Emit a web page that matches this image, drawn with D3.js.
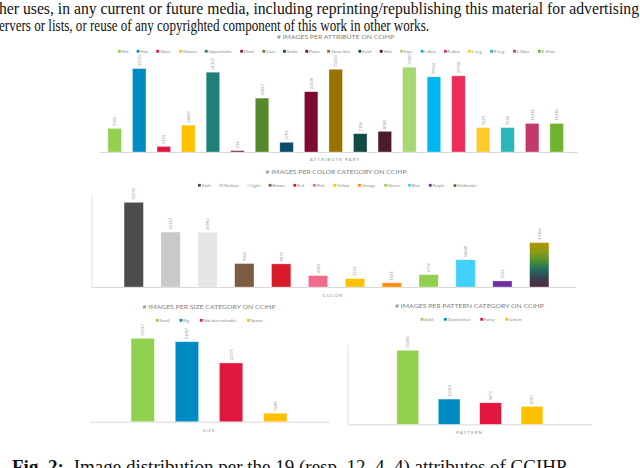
<!DOCTYPE html>
<html><head><meta charset="utf-8">
<script src="https://cdn.jsdelivr.net/npm/d3@7"></script>
<style>
html,body{margin:0;padding:0;background:#fff;overflow:hidden;}
svg{display:block;}
</style></head>
<body>
<svg id="c" width="640" height="468"></svg>
<script>
// ---------- DATA ----------
const attrCategories = ["Hat","Hair","Glove","Glasses","Upperclothe","Mask","Coat","Socks","Pants","Torso-skin","Scarf","Skirt","Face","L-Arm","R-Arm","L-Leg","R-Leg","L-Shoe","R-Shoe"];
const attrValues = [9203,32553,2153,10463,31132,526,21027,3781,23538,32283,7154,8045,33087,29326,29706,9529,9524,11136,11130];
const attrColors = ["#92d050","#008cc2","#e0163f","#ffc000","#1f7f79","#8e1d4f","#56892a","#0b4e6b","#7e0b2f","#997300","#134b44","#4e1a30","#a8d774","#00b7f1","#ee2c5a","#ffca2c","#2db6b8","#c23a6c","#70b22f"];

const colorCategories = ["Dark","Medium","Light","Brown","Red","Pink","Yellow","Orange","Green","Blue","Purple","Multicolor"];
const colorValues = [32530,21113,20982,9005,8879,4382,3233,1565,4735,10460,2325,17056];
const colorColors = ["#4d4d4d","#c9c9c9","#e6e6e6","#7e5a40","#d81b2b","#f06a8c","#ffc000","#ff8c00","#92d050","#3fd0fc","#7030a0","url(#multi)"];

const sizeCategories = ["Small","Big","Not determinable","Sparse"];
const sizeValues = [32337,31037,22775,3288];
const sizeColors = ["#92d050","#008cc2","#e0163f","#ffc000"];

const patternCategories = ["Solid","Geometrical","Fancy","Letters"];
const patternValues = [33285,11340,9671,8057];
const patternColors = ["#92d050","#008cc2","#e0163f","#ffc000"];

const headerLines = [
  "her uses, in any current or future media, including reprinting/republishing this material for advertising",
  "ervers or lists, or reuse of any copyrighted component of this work in other works."
];

// ---------- DRAW ----------
const svg = d3.select("#c");
const defs = svg.append("defs");
const g = defs.append("linearGradient").attr("id","multi").attr("x1",0).attr("y1",0).attr("x2",0).attr("y2",1);
[["0%","#b29400"],["22%","#8a9a1a"],["42%","#4a8f34"],["62%","#236a60"],["80%","#3a3f52"],["100%","#562a40"]]
  .forEach(s=>g.append("stop").attr("offset",s[0]).attr("stop-color",s[1]));

// header text
svg.append("text").attr("x",-1).attr("y",13.5).attr("font-family","Liberation Serif").attr("font-size",16)
  .attr("textLength",640).attr("lengthAdjust","spacingAndGlyphs").attr("fill","#111").text(headerLines[0]);
svg.append("text").attr("x",-1).attr("y",30.5).attr("font-family","Liberation Serif").attr("font-size",16)
  .attr("textLength",430).attr("lengthAdjust","spacingAndGlyphs").attr("fill","#111").text(headerLines[1]);

const FONT = "Lato, 'Open Sans', sans-serif";

function chart(o){
  const n = o.cats.length;
  const x = d3.scaleBand().domain(o.cats).range(o.xr).paddingInner(o.pad).paddingOuter(o.pad/2);
  const y = d3.scaleLinear().domain([0,35000]).range([o.base, o.top]);
  const G = svg.append("g");
  const ax = G.append("g").attr("transform",`translate(0,${o.base})`)
     .call(d3.axisBottom(x).tickSize(0).tickFormat(""));
  ax.select(".domain").remove();
  G.append("line").attr("x1",o.line[0]).attr("x2",o.line[1]).attr("y1",o.base+0.5).attr("y2",o.base+0.5)
    .attr("stroke","#d9d9d9").attr("stroke-width",1);
  if(o.vline) G.append("line").attr("x1",o.vline[0]).attr("x2",o.vline[0]).attr("y1",o.vline[1]).attr("y2",o.base)
    .attr("stroke","#e0e0e0").attr("stroke-width",1);
  G.selectAll("rect.bar").data(o.vals).join("rect").attr("class","bar")
    .attr("x",(d,i)=>x(o.cats[i])).attr("width",x.bandwidth())
    .attr("y",d=>y(d)).attr("height",d=>o.base-y(d))
    .attr("fill",(d,i)=>o.cols[i]).attr("stroke","#ffffff").attr("stroke-opacity",0.5).attr("stroke-width",0.6);
  G.selectAll("text.val").data(o.vals).join("text").attr("class","val")
    .attr("transform",(d,i)=>`translate(${x(o.cats[i])+x.bandwidth()/2+1.5},${y(d)-2.5}) rotate(-90)`)
    .attr("font-family",FONT).attr("font-size",o.vfs).attr("fill","#999").text(d=>d);
  G.append("text").attr("x",o.title[1]).attr("y",o.title[2]).attr("text-anchor","middle")
    .attr("font-family",FONT).attr("font-size",5).attr("fill","#7f7f7f")
    .attr("textLength",o.title[3]).attr("lengthAdjust","spacingAndGlyphs").text(o.title[0]);
  G.append("text").attr("x",o.axt[1]).attr("y",o.axt[2]).attr("text-anchor","middle")
    .attr("font-family",FONT).attr("font-size",4.6).attr("fill","#8c8c8c").attr("letter-spacing",1)
    .text(o.axt[0]);
  const L = G.append("g");
  const items = L.selectAll("g").data(o.cats).join("g");
  items.append("rect").attr("width",2.8).attr("height",2.8).attr("y",-2.6).attr("fill",(d,i)=>o.cols[i]);
  items.append("text").attr("x",3.6).attr("y",0).attr("font-family",FONT).attr("font-size",o.lfs)
    .attr("fill","#8c8c8c").text(d=>d);
  let widths = [];
  items.each(function(){ widths.push(this.getBBox().width); });
  const total = d3.sum(widths);
  const gap = (o.leg[1]-o.leg[0]-total)/(n-1);
  let cx = o.leg[0];
  items.attr("transform",(d,i)=>{ const t=`translate(${cx},${o.leg[2]})`; cx += widths[i]+gap; return t; });
}

chart({cats:attrCategories, vals:attrValues, cols:attrColors, xr:[102.4,569], pad:0.45, base:152, top:62.3,
  line:[100,578], title:["# IMAGES PER ATTRIBUTE ON CCIHP",335.5,38.5,117], axt:["ATTRIBUTE PART",335,160.5],
  leg:[118,556,52.5], vfs:4, lfs:4.3});
chart({cats:colorCategories, vals:colorValues, cols:colorColors, xr:[115.3,557.7], pad:0.476, base:287, top:195.9,
  line:[92,576], vline:[92,196], title:["# IMAGES PER COLOR CATEGORY ON CCIHP",336,174,141], axt:["COLOR",333,296.5],
  leg:[198,477,186.5], vfs:4, lfs:4.3});
chart({cats:sizeCategories, vals:sizeValues, cols:sizeColors, xr:[120.6,297.4], pad:0.473, base:421.7, top:331.5,
  line:[90,330], title:["# IMAGES PER SIZE CATEGORY ON CCIHP",209,308.5,133], axt:["SIZE",209,431.5],
  leg:[156,264,321.5], vfs:4, lfs:4.3});
chart({cats:patternCategories, vals:patternValues, cols:patternColors, xr:[387,552.7], pad:0.476, base:424.3, top:346.5,
  line:[348,592], vline:[348,345], title:["# IMAGES PER PATTERN CATEGORY ON CCIHP",469.5,308,149], axt:["PATTERN",469.7,433.5],
  leg:[420.7,522,320.5], vfs:4, lfs:4.3});

const cap = svg.append("text").attr("x",12).attr("y",473).attr("font-family","Liberation Serif").attr("font-size",19).attr("fill","#111");
cap.append("tspan").attr("font-weight","bold").text("Fig. 2:");
cap.append("tspan").attr("dx",10).text("Image distribution per the 19 (resp. 12, 4, 4) attributes of CCIHP");
</script>
</body></html>
